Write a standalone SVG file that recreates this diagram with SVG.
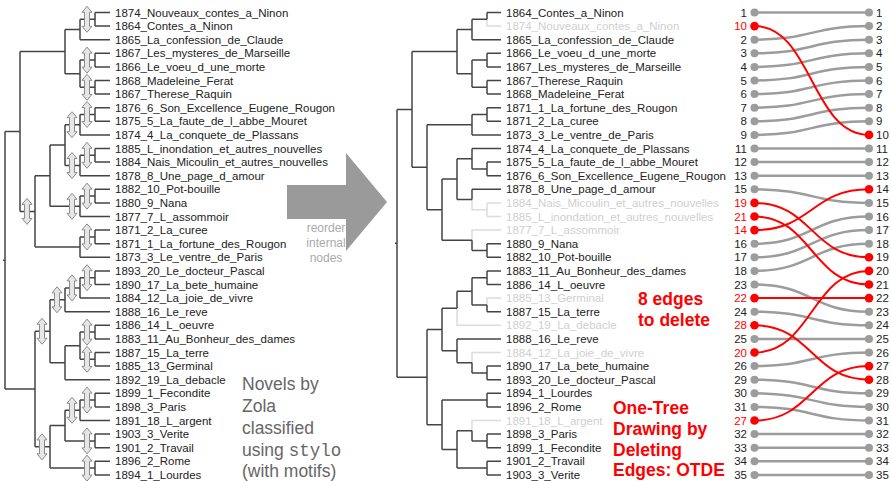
<svg xmlns="http://www.w3.org/2000/svg" xmlns:xlink="http://www.w3.org/1999/xlink" width="891" height="481" viewBox="0 0 891 481">
  <style>
    .edge{fill:none;stroke:#444;stroke-width:1.5}
    .faded{fill:none;stroke:#dcdcdc;stroke-width:1.5}
    .lbl{font-family:"Liberation Sans",Arial,sans-serif;font-size:11.5px;fill:#222}
    .lbl.del{fill:#cfcfcf}
    .num{font-family:"Liberation Sans",Arial,sans-serif;font-size:11.5px;fill:#222}
    .num.red{fill:#ff0000}
    .numL{text-anchor:end}
    .link{fill:none;stroke:#9c9c9c;stroke-width:2.5}
    .link.red{stroke:#ff0000;stroke-width:2}
    .dot{fill:#9c9c9c}
    .dot.red{fill:#ff0000}
    .rot{fill:#e6e6e6;stroke:#8c8c8c;stroke-width:1}
    .note{font-family:"Liberation Sans",Arial,sans-serif;font-size:17.5px;fill:#666}
    .mono{font-family:"Liberation Mono","Courier New",monospace}
    .small{font-family:"Liberation Sans",Arial,sans-serif;font-size:12px;fill:#aaa;text-anchor:middle}
    .redtxt{font-family:"Liberation Sans",Arial,sans-serif;font-size:17.5px;font-weight:bold;fill:#ff0000}
  </style>
  <defs>
    <path id="rot" class="rot" d="M0 -13 L5 -7 L2.5 -7 L2.5 7 L5 7 L0 13 L-5 7 L-2.5 7 L-2.5 -7 L-5 -7 Z"/>
  </defs>
  <rect width="891" height="481" fill="#fff"/>

  <!-- ===== Left dendrogram (original order) ===== -->
  <g id="left-tree-edges">
    <path class="edge" d="M3 260.3 H5 M5 131.5 V389.05
      M5 131.5 H20 M20 51.6 V211.4
      M20 51.6 H65 M65 29.5 V73.7
      M65 29.5 H80 M80 19.3 V39.7
      M80 19.3 H95 M95 12.5 V26.1 M95 12.5 H110 M95 26.1 H110
      M80 39.7 H110
      M65 73.7 H80 M80 60.1 V87.3
      M80 60.1 H95 M95 53.3 V66.9 M95 53.3 H110 M95 66.9 H110
      M80 87.3 H95 M95 80.5 V94.1 M95 80.5 H110 M95 94.1 H110
      M20 211.4 H35 M35 175.7 V247.1
      M35 175.7 H50 M50 145.1 V206.3
      M50 145.1 H65 M65 124.7 V165.5
      M65 124.7 H80 M80 114.5 V134.9
      M80 114.5 H95 M95 107.7 V121.3 M95 107.7 H110 M95 121.3 H110
      M80 134.9 H110
      M65 165.5 H80 M80 155.3 V175.7
      M80 155.3 H95 M95 148.5 V162.1 M95 148.5 H110 M95 162.1 H110
      M80 175.7 H110
      M50 206.3 H80 M80 196.1 V216.5
      M80 196.1 H95 M95 189.3 V202.9 M95 189.3 H110 M95 202.9 H110
      M80 216.5 H110
      M35 247.1 H80 M80 236.9 V257.3
      M80 236.9 H95 M95 230.1 V243.7 M95 230.1 H110 M95 243.7 H110
      M80 257.3 H110
      M5 389.05 H35 M35 331.25 V446.85
      M35 331.25 H50 M50 299.8 V362.7
      M50 299.8 H65 M65 287.9 V311.7
      M65 287.9 H80 M80 277.7 V298.1
      M80 277.7 H95 M95 270.9 V284.5 M95 270.9 H110 M95 284.5 H110
      M80 298.1 H110
      M65 311.7 H110
      M50 362.7 H65 M65 345.7 V379.7
      M65 345.7 H80 M80 332.1 V359.3
      M80 332.1 H95 M95 325.3 V338.9 M95 325.3 H110 M95 338.9 H110
      M80 359.3 H95 M95 352.5 V366.1 M95 352.5 H110 M95 366.1 H110
      M65 379.7 H110
      M35 446.85 H50 M50 425.6 V468.1
      M50 425.6 H65 M65 410.3 V440.9
      M65 410.3 H80 M80 400.1 V420.5
      M80 400.1 H95 M95 393.3 V406.9 M95 393.3 H110 M95 406.9 H110
      M80 420.5 H110
      M65 440.9 H95 M95 434.1 V447.7 M95 434.1 H110 M95 447.7 H110
      M50 468.1 H95 M95 461.3 V474.9 M95 461.3 H110 M95 474.9 H110"/>
  </g>

  <!-- rotation markers on swappable internal nodes -->
  <g id="left-rotations">
    <use xlink:href="#rot" x="87" y="19.3"/>
    <use xlink:href="#rot" x="87" y="60.1"/>
    <use xlink:href="#rot" x="87" y="87.3"/>
    <use xlink:href="#rot" x="87" y="114.5"/>
    <use xlink:href="#rot" x="87" y="155.3"/>
    <use xlink:href="#rot" x="87" y="196.1"/>
    <use xlink:href="#rot" x="87" y="236.9"/>
    <use xlink:href="#rot" x="87" y="277.7"/>
    <use xlink:href="#rot" x="87" y="332.1"/>
    <use xlink:href="#rot" x="87" y="359.3"/>
    <use xlink:href="#rot" x="87" y="400.1"/>
    <use xlink:href="#rot" x="87" y="440.9"/>
    <use xlink:href="#rot" x="87" y="468.1"/>
    <use xlink:href="#rot" x="72" y="124.7"/>
    <use xlink:href="#rot" x="72" y="165.5"/>
    <use xlink:href="#rot" x="72" y="206.3"/>
    <use xlink:href="#rot" x="72" y="287.9"/>
    <use xlink:href="#rot" x="72" y="410.3"/>
    <use xlink:href="#rot" x="57" y="299.8"/>
    <use xlink:href="#rot" x="42" y="331.25"/>
    <use xlink:href="#rot" x="42" y="446.85"/>
    <use xlink:href="#rot" x="27" y="211.4"/>
  </g>

  <g id="left-leaves">
    <g id="L00"><text class="lbl" x="115" y="16.5">1874_Nouveaux_contes_a_Ninon</text></g>
    <g id="L01"><text class="lbl" x="115" y="30.1">1864_Contes_a_Ninon</text></g>
    <g id="L02"><text class="lbl" x="115" y="43.7">1865_La_confession_de_Claude</text></g>
    <g id="L03"><text class="lbl" x="115" y="57.3">1867_Les_mysteres_de_Marseille</text></g>
    <g id="L04"><text class="lbl" x="115" y="70.9">1866_Le_voeu_d_une_morte</text></g>
    <g id="L05"><text class="lbl" x="115" y="84.5">1868_Madeleine_Ferat</text></g>
    <g id="L06"><text class="lbl" x="115" y="98.1">1867_Therese_Raquin</text></g>
    <g id="L07"><text class="lbl" x="115" y="111.7">1876_6_Son_Excellence_Eugene_Rougon</text></g>
    <g id="L08"><text class="lbl" x="115" y="125.3">1875_5_La_faute_de_l_abbe_Mouret</text></g>
    <g id="L09"><text class="lbl" x="115" y="138.9">1874_4_La_conquete_de_Plassans</text></g>
    <g id="L10"><text class="lbl" x="115" y="152.5">1885_L_inondation_et_autres_nouvelles</text></g>
    <g id="L11"><text class="lbl" x="115" y="166.1">1884_Nais_Micoulin_et_autres_nouvelles</text></g>
    <g id="L12"><text class="lbl" x="115" y="179.7">1878_8_Une_page_d_amour</text></g>
    <g id="L13"><text class="lbl" x="115" y="193.3">1882_10_Pot-bouille</text></g>
    <g id="L14"><text class="lbl" x="115" y="206.9">1880_9_Nana</text></g>
    <g id="L15"><text class="lbl" x="115" y="220.5">1877_7_L_assommoir</text></g>
    <g id="L16"><text class="lbl" x="115" y="234.1">1871_2_La_curee</text></g>
    <g id="L17"><text class="lbl" x="115" y="247.7">1871_1_La_fortune_des_Rougon</text></g>
    <g id="L18"><text class="lbl" x="115" y="261.3">1873_3_Le_ventre_de_Paris</text></g>
    <g id="L19"><text class="lbl" x="115" y="274.9">1893_20_Le_docteur_Pascal</text></g>
    <g id="L20"><text class="lbl" x="115" y="288.5">1890_17_La_bete_humaine</text></g>
    <g id="L21"><text class="lbl" x="115" y="302.1">1884_12_La_joie_de_vivre</text></g>
    <g id="L22"><text class="lbl" x="115" y="315.7">1888_16_Le_reve</text></g>
    <g id="L23"><text class="lbl" x="115" y="329.3">1886_14_L_oeuvre</text></g>
    <g id="L24"><text class="lbl" x="115" y="342.9">1883_11_Au_Bonheur_des_dames</text></g>
    <g id="L25"><text class="lbl" x="115" y="356.5">1887_15_La_terre</text></g>
    <g id="L26"><text class="lbl" x="115" y="370.1">1885_13_Germinal</text></g>
    <g id="L27"><text class="lbl" x="115" y="383.7">1892_19_La_debacle</text></g>
    <g id="L28"><text class="lbl" x="115" y="397.3">1899_1_Fecondite</text></g>
    <g id="L29"><text class="lbl" x="115" y="410.9">1898_3_Paris</text></g>
    <g id="L30"><text class="lbl" x="115" y="424.5">1891_18_L_argent</text></g>
    <g id="L31"><text class="lbl" x="115" y="438.1">1903_3_Verite</text></g>
    <g id="L32"><text class="lbl" x="115" y="451.7">1901_2_Travail</text></g>
    <g id="L33"><text class="lbl" x="115" y="465.3">1896_2_Rome</text></g>
    <g id="L34"><text class="lbl" x="115" y="478.9">1894_1_Lourdes</text></g>
  </g>

  <g id="caption-left">
    <text class="note" x="242" y="390">Novels by</text>
    <text class="note" x="242" y="412">Zola</text>
    <text class="note" x="242" y="434">classified</text>
    <text class="note" x="242" y="456">using <tspan class="mono">stylo</tspan></text>
    <text class="note" x="242" y="477">(with motifs)</text>
  </g>

  <!-- ===== Transition arrow ===== -->
  <g id="reorder-arrow">
    <polygon points="287,185 346,185 346,153 387,202 346,251 346,219 287,219" fill="#9a9a9a"/>
    <text class="small" x="326" y="232">reorder</text>
    <text class="small" x="326" y="247">internal</text>
    <text class="small" x="326" y="262">nodes</text>
  </g>

  <!-- ===== Right dendrogram (reordered) ===== -->
  <g id="right-tree-edges">
    <path class="faded" d="M487 19.3 V26.1 H501
      M472 199.5 V209.7 H487 M487 202.9 V216.5 M487 202.9 H501 M487 216.5 H501
      M472 240.3 V230.1 H501
      M457 308.3 V325.3 H501
      M487 304.9 V298.1 H501
      M472 362.7 V352.5 H501
      M472 430.7 V420.5 H501"/>
    <path class="edge" d="M395 243.3 H397 M397 109.4 V377.15
      M397 109.4 H412 M412 51.6 V167.2
      M412 51.6 H457 M457 29.5 V73.7
      M457 29.5 H472 M472 19.3 V39.7
      M472 19.3 H487 M487 12.5 V19.3 M487 12.5 H501
      M472 39.7 H501
      M457 73.7 H472 M472 60.1 V87.3
      M472 60.1 H487 M487 53.3 V66.9 M487 53.3 H501 M487 66.9 H501
      M472 87.3 H487 M487 80.5 V94.1 M487 80.5 H501 M487 94.1 H501
      M412 167.2 H427 M427 124.7 V209.7
      M427 124.7 H472 M472 114.5 V134.9
      M472 114.5 H487 M487 107.7 V121.3 M487 107.7 H501 M487 121.3 H501
      M472 134.9 H501
      M427 209.7 H442 M442 179.1 V240.3
      M442 179.1 H457 M457 158.7 V199.5
      M457 158.7 H472 M472 148.5 V168.9
      M472 148.5 H501
      M472 168.9 H487 M487 162.1 V175.7 M487 162.1 H501 M487 175.7 H501
      M457 199.5 H472 M472 189.3 V199.5 M472 189.3 H501
      M442 240.3 H472 M472 240.3 V250.5
      M472 250.5 H487 M487 243.7 V257.3 M487 243.7 H501 M487 257.3 H501
      M397 377.15 H427 M427 329.55 V424.75
      M427 329.55 H442 M442 308.3 V350.8
      M442 308.3 H457 M457 291.3 V308.3
      M457 291.3 H472 M472 277.7 V304.9
      M472 277.7 H487 M487 270.9 V284.5 M487 270.9 H501 M487 284.5 H501
      M472 304.9 H487 M487 304.9 V311.7 M487 311.7 H501
      M442 350.8 H457 M457 338.9 V362.7 M457 338.9 H501
      M457 362.7 H472 M472 362.7 V372.9
      M472 372.9 H487 M487 366.1 V379.7 M487 366.1 H501 M487 379.7 H501
      M427 424.75 H442 M442 400.1 V449.4
      M442 400.1 H487 M487 393.3 V406.9 M487 393.3 H501 M487 406.9 H501
      M442 449.4 H457 M457 430.7 V468.1
      M457 430.7 H472 M472 430.7 V440.9
      M472 440.9 H487 M487 434.1 V447.7 M487 434.1 H501 M487 447.7 H501
      M457 468.1 H487 M487 461.3 V474.9 M487 461.3 H501 M487 474.9 H501"/>
  </g>

  <g id="right-leaves">
    <g id="R00"><text class="lbl" x="506" y="16.5">1864_Contes_a_Ninon</text></g>
    <g id="R01"><text class="lbl del" x="506" y="30.1">1874_Nouveaux_contes_a_Ninon</text></g>
    <g id="R02"><text class="lbl" x="506" y="43.7">1865_La_confession_de_Claude</text></g>
    <g id="R03"><text class="lbl" x="506" y="57.3">1866_Le_voeu_d_une_morte</text></g>
    <g id="R04"><text class="lbl" x="506" y="70.9">1867_Les_mysteres_de_Marseille</text></g>
    <g id="R05"><text class="lbl" x="506" y="84.5">1867_Therese_Raquin</text></g>
    <g id="R06"><text class="lbl" x="506" y="98.1">1868_Madeleine_Ferat</text></g>
    <g id="R07"><text class="lbl" x="506" y="111.7">1871_1_La_fortune_des_Rougon</text></g>
    <g id="R08"><text class="lbl" x="506" y="125.3">1871_2_La_curee</text></g>
    <g id="R09"><text class="lbl" x="506" y="138.9">1873_3_Le_ventre_de_Paris</text></g>
    <g id="R10"><text class="lbl" x="506" y="152.5">1874_4_La_conquete_de_Plassans</text></g>
    <g id="R11"><text class="lbl" x="506" y="166.1">1875_5_La_faute_de_l_abbe_Mouret</text></g>
    <g id="R12"><text class="lbl" x="506" y="179.7">1876_6_Son_Excellence_Eugene_Rougon</text></g>
    <g id="R13"><text class="lbl" x="506" y="193.3">1878_8_Une_page_d_amour</text></g>
    <g id="R14"><text class="lbl del" x="506" y="206.9">1884_Nais_Micoulin_et_autres_nouvelles</text></g>
    <g id="R15"><text class="lbl del" x="506" y="220.5">1885_L_inondation_et_autres_nouvelles</text></g>
    <g id="R16"><text class="lbl del" x="506" y="234.1">1877_7_L_assommoir</text></g>
    <g id="R17"><text class="lbl" x="506" y="247.7">1880_9_Nana</text></g>
    <g id="R18"><text class="lbl" x="506" y="261.3">1882_10_Pot-bouille</text></g>
    <g id="R19"><text class="lbl" x="506" y="274.9">1883_11_Au_Bonheur_des_dames</text></g>
    <g id="R20"><text class="lbl" x="506" y="288.5">1886_14_L_oeuvre</text></g>
    <g id="R21"><text class="lbl del" x="506" y="302.1">1885_13_Germinal</text></g>
    <g id="R22"><text class="lbl" x="506" y="315.7">1887_15_La_terre</text></g>
    <g id="R23"><text class="lbl del" x="506" y="329.3">1892_19_La_debacle</text></g>
    <g id="R24"><text class="lbl" x="506" y="342.9">1888_16_Le_reve</text></g>
    <g id="R25"><text class="lbl del" x="506" y="356.5">1884_12_La_joie_de_vivre</text></g>
    <g id="R26"><text class="lbl" x="506" y="370.1">1890_17_La_bete_humaine</text></g>
    <g id="R27"><text class="lbl" x="506" y="383.7">1893_20_Le_docteur_Pascal</text></g>
    <g id="R28"><text class="lbl" x="506" y="397.3">1894_1_Lourdes</text></g>
    <g id="R29"><text class="lbl" x="506" y="410.9">1896_2_Rome</text></g>
    <g id="R30"><text class="lbl del" x="506" y="424.5">1891_18_L_argent</text></g>
    <g id="R31"><text class="lbl" x="506" y="438.1">1898_3_Paris</text></g>
    <g id="R32"><text class="lbl" x="506" y="451.7">1899_1_Fecondite</text></g>
    <g id="R33"><text class="lbl" x="506" y="465.3">1901_2_Travail</text></g>
    <g id="R34"><text class="lbl" x="506" y="478.9">1903_3_Verite</text></g>
  </g>

  <g id="otde-notes">
    <text class="redtxt" x="638" y="305">8 edges</text>
    <text class="redtxt" x="638" y="326">to delete</text>
    <text class="redtxt" x="613" y="414">One-Tree</text>
    <text class="redtxt" x="613" y="435">Drawing by</text>
    <text class="redtxt" x="613" y="456">Deleting</text>
    <text class="redtxt" x="613" y="476">Edges: OTDE</text>
  </g>

  <!-- ===== Tanglegram: left order -> sorted order ===== -->
  <g id="links">
    <path class="link" d="M754.5 12.5 C811.75 12.5 811.75 12.5 869 12.5"/>
    <path class="link" d="M754.5 39.7 C811.75 39.7 811.75 26.1 869 26.1"/>
    <path class="link" d="M754.5 53.3 C811.75 53.3 811.75 39.7 869 39.7"/>
    <path class="link" d="M754.5 66.9 C811.75 66.9 811.75 53.3 869 53.3"/>
    <path class="link" d="M754.5 80.5 C811.75 80.5 811.75 66.9 869 66.9"/>
    <path class="link" d="M754.5 94.1 C811.75 94.1 811.75 80.5 869 80.5"/>
    <path class="link" d="M754.5 107.7 C811.75 107.7 811.75 94.1 869 94.1"/>
    <path class="link" d="M754.5 121.3 C811.75 121.3 811.75 107.7 869 107.7"/>
    <path class="link" d="M754.5 134.9 C811.75 134.9 811.75 121.3 869 121.3"/>
    <path class="link" d="M754.5 148.5 C811.75 148.5 811.75 148.5 869 148.5"/>
    <path class="link" d="M754.5 162.1 C811.75 162.1 811.75 162.1 869 162.1"/>
    <path class="link" d="M754.5 175.7 C811.75 175.7 811.75 175.7 869 175.7"/>
    <path class="link" d="M754.5 189.3 C811.75 189.3 811.75 202.9 869 202.9"/>
    <path class="link" d="M754.5 243.7 C811.75 243.7 811.75 216.5 869 216.5"/>
    <path class="link" d="M754.5 257.3 C811.75 257.3 811.75 230.1 869 230.1"/>
    <path class="link" d="M754.5 270.9 C811.75 270.9 811.75 243.7 869 243.7"/>
    <path class="link" d="M754.5 284.5 C811.75 284.5 811.75 311.7 869 311.7"/>
    <path class="link" d="M754.5 311.7 C811.75 311.7 811.75 325.3 869 325.3"/>
    <path class="link" d="M754.5 338.9 C811.75 338.9 811.75 338.9 869 338.9"/>
    <path class="link" d="M754.5 366.1 C811.75 366.1 811.75 352.5 869 352.5"/>
    <path class="link" d="M754.5 379.7 C811.75 379.7 811.75 393.3 869 393.3"/>
    <path class="link" d="M754.5 393.3 C811.75 393.3 811.75 406.9 869 406.9"/>
    <path class="link" d="M754.5 406.9 C811.75 406.9 811.75 420.5 869 420.5"/>
    <path class="link" d="M754.5 434.1 C811.75 434.1 811.75 434.1 869 434.1"/>
    <path class="link" d="M754.5 447.7 C811.75 447.7 811.75 447.7 869 447.7"/>
    <path class="link" d="M754.5 461.3 C811.75 461.3 811.75 461.3 869 461.3"/>
    <path class="link" d="M754.5 474.9 C811.75 474.9 811.75 474.9 869 474.9"/>
    <!-- deleted-edge links -->
    <path class="link red" d="M754.5 26.1 C811.75 26.1 811.75 134.9 869 134.9"/>
    <path class="link red" d="M754.5 202.9 C811.75 202.9 811.75 257.3 869 257.3"/>
    <path class="link red" d="M754.5 216.5 C811.75 216.5 811.75 284.5 869 284.5"/>
    <path class="link red" d="M754.5 230.1 C811.75 230.1 811.75 189.3 869 189.3"/>
    <path class="link red" d="M754.5 298.1 C811.75 298.1 811.75 298.1 869 298.1"/>
    <path class="link red" d="M754.5 325.3 C811.75 325.3 811.75 379.7 869 379.7"/>
    <path class="link red" d="M754.5 352.5 C811.75 352.5 811.75 270.9 869 270.9"/>
    <path class="link red" d="M754.5 420.5 C811.75 420.5 811.75 366.1 869 366.1"/>
  </g>

  <g id="left-column">
    <g id="a00"><circle class="dot" cx="754.5" cy="12.5" r="4"/><text class="num numL" x="747" y="16.5">1</text></g>
    <g id="a01"><circle class="dot red" cx="754.5" cy="26.1" r="4.3"/><text class="num numL red" x="747" y="30.1">10</text></g>
    <g id="a02"><circle class="dot" cx="754.5" cy="39.7" r="4"/><text class="num numL" x="747" y="43.7">2</text></g>
    <g id="a03"><circle class="dot" cx="754.5" cy="53.3" r="4"/><text class="num numL" x="747" y="57.3">3</text></g>
    <g id="a04"><circle class="dot" cx="754.5" cy="66.9" r="4"/><text class="num numL" x="747" y="70.9">4</text></g>
    <g id="a05"><circle class="dot" cx="754.5" cy="80.5" r="4"/><text class="num numL" x="747" y="84.5">5</text></g>
    <g id="a06"><circle class="dot" cx="754.5" cy="94.1" r="4"/><text class="num numL" x="747" y="98.1">6</text></g>
    <g id="a07"><circle class="dot" cx="754.5" cy="107.7" r="4"/><text class="num numL" x="747" y="111.7">7</text></g>
    <g id="a08"><circle class="dot" cx="754.5" cy="121.3" r="4"/><text class="num numL" x="747" y="125.3">8</text></g>
    <g id="a09"><circle class="dot" cx="754.5" cy="134.9" r="4"/><text class="num numL" x="747" y="138.9">9</text></g>
    <g id="a10"><circle class="dot" cx="754.5" cy="148.5" r="4"/><text class="num numL" x="747" y="152.5">11</text></g>
    <g id="a11"><circle class="dot" cx="754.5" cy="162.1" r="4"/><text class="num numL" x="747" y="166.1">12</text></g>
    <g id="a12"><circle class="dot" cx="754.5" cy="175.7" r="4"/><text class="num numL" x="747" y="179.7">13</text></g>
    <g id="a13"><circle class="dot" cx="754.5" cy="189.3" r="4"/><text class="num numL" x="747" y="193.3">15</text></g>
    <g id="a14"><circle class="dot red" cx="754.5" cy="202.9" r="4.3"/><text class="num numL red" x="747" y="206.9">19</text></g>
    <g id="a15"><circle class="dot red" cx="754.5" cy="216.5" r="4.3"/><text class="num numL red" x="747" y="220.5">21</text></g>
    <g id="a16"><circle class="dot red" cx="754.5" cy="230.1" r="4.3"/><text class="num numL red" x="747" y="234.1">14</text></g>
    <g id="a17"><circle class="dot" cx="754.5" cy="243.7" r="4"/><text class="num numL" x="747" y="247.7">16</text></g>
    <g id="a18"><circle class="dot" cx="754.5" cy="257.3" r="4"/><text class="num numL" x="747" y="261.3">17</text></g>
    <g id="a19"><circle class="dot" cx="754.5" cy="270.9" r="4"/><text class="num numL" x="747" y="274.9">18</text></g>
    <g id="a20"><circle class="dot" cx="754.5" cy="284.5" r="4"/><text class="num numL" x="747" y="288.5">23</text></g>
    <g id="a21"><circle class="dot red" cx="754.5" cy="298.1" r="4.3"/><text class="num numL red" x="747" y="302.1">22</text></g>
    <g id="a22"><circle class="dot" cx="754.5" cy="311.7" r="4"/><text class="num numL" x="747" y="315.7">24</text></g>
    <g id="a23"><circle class="dot red" cx="754.5" cy="325.3" r="4.3"/><text class="num numL red" x="747" y="329.3">28</text></g>
    <g id="a24"><circle class="dot" cx="754.5" cy="338.9" r="4"/><text class="num numL" x="747" y="342.9">25</text></g>
    <g id="a25"><circle class="dot red" cx="754.5" cy="352.5" r="4.3"/><text class="num numL red" x="747" y="356.5">20</text></g>
    <g id="a26"><circle class="dot" cx="754.5" cy="366.1" r="4"/><text class="num numL" x="747" y="370.1">26</text></g>
    <g id="a27"><circle class="dot" cx="754.5" cy="379.7" r="4"/><text class="num numL" x="747" y="383.7">29</text></g>
    <g id="a28"><circle class="dot" cx="754.5" cy="393.3" r="4"/><text class="num numL" x="747" y="397.3">30</text></g>
    <g id="a29"><circle class="dot" cx="754.5" cy="406.9" r="4"/><text class="num numL" x="747" y="410.9">31</text></g>
    <g id="a30"><circle class="dot red" cx="754.5" cy="420.5" r="4.3"/><text class="num numL red" x="747" y="424.5">27</text></g>
    <g id="a31"><circle class="dot" cx="754.5" cy="434.1" r="4"/><text class="num numL" x="747" y="438.1">32</text></g>
    <g id="a32"><circle class="dot" cx="754.5" cy="447.7" r="4"/><text class="num numL" x="747" y="451.7">33</text></g>
    <g id="a33"><circle class="dot" cx="754.5" cy="461.3" r="4"/><text class="num numL" x="747" y="465.3">34</text></g>
    <g id="a34"><circle class="dot" cx="754.5" cy="474.9" r="4"/><text class="num numL" x="747" y="478.9">35</text></g>
  </g>

  <g id="right-column">
    <g id="b01"><circle class="dot" cx="869" cy="12.5" r="4"/><text class="num" x="876" y="16.5">1</text></g>
    <g id="b02"><circle class="dot" cx="869" cy="26.1" r="4"/><text class="num" x="876" y="30.1">2</text></g>
    <g id="b03"><circle class="dot" cx="869" cy="39.7" r="4"/><text class="num" x="876" y="43.7">3</text></g>
    <g id="b04"><circle class="dot" cx="869" cy="53.3" r="4"/><text class="num" x="876" y="57.3">4</text></g>
    <g id="b05"><circle class="dot" cx="869" cy="66.9" r="4"/><text class="num" x="876" y="70.9">5</text></g>
    <g id="b06"><circle class="dot" cx="869" cy="80.5" r="4"/><text class="num" x="876" y="84.5">6</text></g>
    <g id="b07"><circle class="dot" cx="869" cy="94.1" r="4"/><text class="num" x="876" y="98.1">7</text></g>
    <g id="b08"><circle class="dot" cx="869" cy="107.7" r="4"/><text class="num" x="876" y="111.7">8</text></g>
    <g id="b09"><circle class="dot" cx="869" cy="121.3" r="4"/><text class="num" x="876" y="125.3">9</text></g>
    <g id="b10"><circle class="dot red" cx="869" cy="134.9" r="4.3"/><text class="num" x="876" y="138.9">10</text></g>
    <g id="b11"><circle class="dot" cx="869" cy="148.5" r="4"/><text class="num" x="876" y="152.5">11</text></g>
    <g id="b12"><circle class="dot" cx="869" cy="162.1" r="4"/><text class="num" x="876" y="166.1">12</text></g>
    <g id="b13"><circle class="dot" cx="869" cy="175.7" r="4"/><text class="num" x="876" y="179.7">13</text></g>
    <g id="b14"><circle class="dot red" cx="869" cy="189.3" r="4.3"/><text class="num" x="876" y="193.3">14</text></g>
    <g id="b15"><circle class="dot" cx="869" cy="202.9" r="4"/><text class="num" x="876" y="206.9">15</text></g>
    <g id="b16"><circle class="dot" cx="869" cy="216.5" r="4"/><text class="num" x="876" y="220.5">16</text></g>
    <g id="b17"><circle class="dot" cx="869" cy="230.1" r="4"/><text class="num" x="876" y="234.1">17</text></g>
    <g id="b18"><circle class="dot" cx="869" cy="243.7" r="4"/><text class="num" x="876" y="247.7">18</text></g>
    <g id="b19"><circle class="dot red" cx="869" cy="257.3" r="4.3"/><text class="num" x="876" y="261.3">19</text></g>
    <g id="b20"><circle class="dot red" cx="869" cy="270.9" r="4.3"/><text class="num" x="876" y="274.9">20</text></g>
    <g id="b21"><circle class="dot red" cx="869" cy="284.5" r="4.3"/><text class="num" x="876" y="288.5">21</text></g>
    <g id="b22"><circle class="dot red" cx="869" cy="298.1" r="4.3"/><text class="num" x="876" y="302.1">22</text></g>
    <g id="b23"><circle class="dot" cx="869" cy="311.7" r="4"/><text class="num" x="876" y="315.7">23</text></g>
    <g id="b24"><circle class="dot" cx="869" cy="325.3" r="4"/><text class="num" x="876" y="329.3">24</text></g>
    <g id="b25"><circle class="dot" cx="869" cy="338.9" r="4"/><text class="num" x="876" y="342.9">25</text></g>
    <g id="b26"><circle class="dot" cx="869" cy="352.5" r="4"/><text class="num" x="876" y="356.5">26</text></g>
    <g id="b27"><circle class="dot red" cx="869" cy="366.1" r="4.3"/><text class="num" x="876" y="370.1">27</text></g>
    <g id="b28"><circle class="dot red" cx="869" cy="379.7" r="4.3"/><text class="num" x="876" y="383.7">28</text></g>
    <g id="b29"><circle class="dot" cx="869" cy="393.3" r="4"/><text class="num" x="876" y="397.3">29</text></g>
    <g id="b30"><circle class="dot" cx="869" cy="406.9" r="4"/><text class="num" x="876" y="410.9">30</text></g>
    <g id="b31"><circle class="dot" cx="869" cy="420.5" r="4"/><text class="num" x="876" y="424.5">31</text></g>
    <g id="b32"><circle class="dot" cx="869" cy="434.1" r="4"/><text class="num" x="876" y="438.1">32</text></g>
    <g id="b33"><circle class="dot" cx="869" cy="447.7" r="4"/><text class="num" x="876" y="451.7">33</text></g>
    <g id="b34"><circle class="dot" cx="869" cy="461.3" r="4"/><text class="num" x="876" y="465.3">34</text></g>
    <g id="b35"><circle class="dot" cx="869" cy="474.9" r="4"/><text class="num" x="876" y="478.9">35</text></g>
  </g>
</svg>
